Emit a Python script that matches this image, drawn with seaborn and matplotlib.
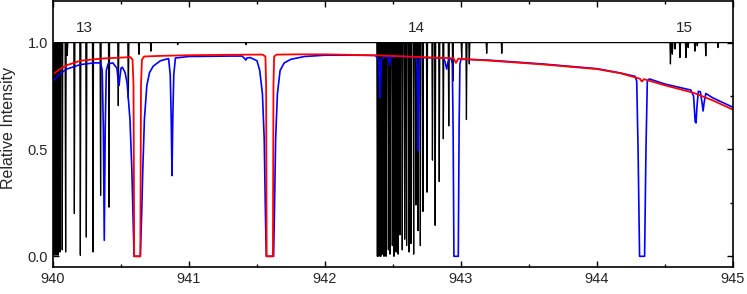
import numpy as np
import pandas as pd
import seaborn as sns
import matplotlib.pyplot as plt
from matplotlib.ticker import MultipleLocator

# black: measured absorption lines (position, bottom of line)
black_pos = [940.007, 940.022, 940.037, 940.051, 940.068, 940.093, 940.105, 940.157, 940.201,
             940.245, 940.294, 940.350, 940.412, 940.480, 940.554, 940.632, 940.720, 940.917,
             941.420,
             942.385, 942.397, 942.410, 942.421, 942.434, 942.449, 942.466, 942.478, 942.495,
             942.507, 942.522, 942.537, 942.551, 942.568, 942.586, 942.600, 942.618, 942.632,
             942.652, 942.669, 942.684, 942.701, 942.720, 942.750, 942.790, 942.810, 942.840,
             942.870, 942.910, 942.940, 943.005, 943.040, 943.061, 943.189, 943.300,
             944.540, 944.554, 944.574, 944.610, 944.654, 944.670, 944.720, 944.737, 944.800,
             944.890]
black_min = [0.005, 0.005, 0.005, 0.02, 0.03, 0.02, 0.94, 0.20, 0.005,
             0.09, 0.02, 0.285, 0.23, 0.705, 0.74, 0.945, 0.96, 0.99,
             0.99,
             0.0, 0.0, 0.0, 0.01, 0.0, 0.0, 0.03, 0.01, 0.05,
             0.0, 0.02, 0.01, 0.10, 0.03, 0.08, 0.05, 0.02, 0.06,
             0.01, 0.24, 0.12, 0.05, 0.21, 0.30, 0.45, 0.145, 0.35,
             0.55, 0.61, 0.82, 0.93, 0.64, 0.90, 0.95, 0.95,
             0.90, 0.946, 0.97, 0.93, 0.93, 0.977, 0.96, 0.985, 0.938,
             0.977]

# red curve, points
red_x = [940.0, 940.05, 940.1, 940.2, 940.35, 940.5, 940.57, 940.585, 940.592, 940.597,
         940.642, 940.647, 940.654, 940.67, 940.8, 941.0, 941.3, 941.54, 941.562, 941.567,
         941.571, 941.617, 941.621, 941.626, 941.645, 941.8, 942.0, 942.4, 942.8, 942.945,
         942.963, 942.98, 943.2, 943.6, 944.0, 944.17, 944.315, 944.33, 944.345, 944.5,
         944.71, 944.85, 945.0]
red_y = [0.852, 0.876, 0.894, 0.915, 0.925, 0.93, 0.932, 0.92, 0.8, 0.0,
         0.0, 0.8, 0.92, 0.935, 0.938, 0.941, 0.943, 0.944, 0.935, 0.8,
         0.0, 0.0, 0.8, 0.935, 0.944, 0.945, 0.945, 0.94, 0.93, 0.927,
         0.905, 0.925, 0.916, 0.898, 0.876, 0.857, 0.831, 0.818, 0.829, 0.80,
         0.765, 0.73, 0.686]

# blue curve, points
blue_x = [940.0, 940.05, 940.1, 940.2, 940.3, 940.35,
          940.362, 940.37, 940.377, 940.384, 940.392, 940.405,
          940.44, 940.47, 940.48, 940.486, 940.492, 940.5, 940.51,
          940.53, 940.545, 940.566, 940.58, 940.588, 940.596, 940.642, 940.652, 940.66,
          940.672, 940.69, 940.71, 940.737, 940.79, 940.83, 940.85,
          940.862, 940.869, 940.875, 940.881, 940.888, 940.9, 941.0, 941.3, 941.39,
          941.41, 941.418, 941.426, 941.45,
          941.5, 941.52, 941.54, 941.553, 941.562, 941.568, 941.622, 941.628, 941.637,
          941.65, 941.67, 941.7, 941.75, 941.85, 942.0, 942.2, 942.37,
          942.395, 942.4, 942.404, 942.408, 942.413, 942.44, 942.466, 942.474, 942.482,
          942.5, 942.67,
          942.678, 942.682, 942.686, 942.690, 942.694, 942.70, 942.87,
          942.883, 942.895, 942.905, 942.915, 942.93,
          942.936, 942.942, 942.948, 942.98, 942.986, 942.992, 943.0, 943.2, 943.6,
          944.0, 944.17, 944.28,
          944.292, 944.302, 944.313, 944.35, 944.36, 944.37, 944.385, 944.5, 944.69,
          944.71, 944.722, 944.728, 944.735, 944.745, 944.76,
          944.772, 944.78, 944.788, 944.8, 944.85, 945.0]
blue_y = [0.82, 0.853, 0.876, 0.897, 0.905, 0.905,
          0.87, 0.6, 0.075, 0.6, 0.87, 0.9,
          0.905, 0.88, 0.82, 0.80, 0.84, 0.88, 0.885,
          0.86, 0.81, 0.64, 0.4, 0.2, 0.0, 0.0, 0.2, 0.4,
          0.64, 0.8, 0.86, 0.89, 0.915, 0.922, 0.925,
          0.85, 0.65, 0.378, 0.65, 0.85, 0.928, 0.935, 0.937, 0.937,
          0.925, 0.918, 0.928, 0.93,
          0.915, 0.87, 0.76, 0.55, 0.2, 0.0, 0.0, 0.2, 0.55,
          0.76, 0.87, 0.905, 0.922, 0.935, 0.941, 0.941, 0.94,
          0.92, 0.82, 0.744, 0.82, 0.92, 0.937, 0.93, 0.895, 0.93,
          0.935, 0.932,
          0.88, 0.7, 0.495, 0.7, 0.88, 0.93, 0.928,
          0.91, 0.876, 0.91, 0.926, 0.922,
          0.9, 0.6, 0.0, 0.0, 0.6, 0.9, 0.922, 0.918, 0.9,
          0.878, 0.858, 0.842,
          0.82, 0.5, 0.0, 0.0, 0.5, 0.82, 0.83, 0.806, 0.778,
          0.75, 0.63, 0.624, 0.7, 0.772, 0.77,
          0.72, 0.68, 0.72, 0.762, 0.742, 0.697]

band_labels = ["13", "14", "15"]
band_x = [940.23, 942.67, 944.64]

# black sticks: each line drawn as a narrow V from the 1.0 baseline
hw = 0.004
bx = [940.0]
by = [1.0]
for p, m in zip(black_pos, black_min):
    bx += [p - hw, p, p + hw]
    by += [1.0, m, 1.0]
bx.append(945.0)
by.append(1.0)
black_df = pd.DataFrame({"x": bx, "y": by})
red_df = pd.DataFrame({"x": red_x, "y": red_y})
blue_df = pd.DataFrame({"x": blue_x, "y": blue_y})

sns.set_theme(style="ticks")
plt.rcParams["font.family"] = ["Liberation Sans", "DejaVu Sans"]
plt.rcParams["xtick.direction"] = "in"
plt.rcParams["ytick.direction"] = "in"

fig = plt.figure(figsize=(7.47, 2.94), dpi=100)
ax = fig.add_axes([53 / 747, 27 / 294, 680 / 747, 266.5 / 294])

sns.lineplot(data=black_df, x="x", y="y", color="black", lw=0.9, estimator=None, sort=False, ax=ax)
sns.lineplot(data=blue_df, x="x", y="y", color="#0000ff", lw=1.2, estimator=None, sort=False, ax=ax)
sns.lineplot(data=red_df, x="x", y="y", color="#ff0000", lw=1.3, estimator=None, sort=False, ax=ax)

for lab, xx in zip(band_labels, band_x):
    ax.text(xx, 1.07, lab, ha="center", va="center", fontsize=11)

ax.set_xlim(940, 945)
ax.set_ylim(-0.05, 1.197)
ax.xaxis.set_major_locator(MultipleLocator(1))
ax.xaxis.set_minor_locator(MultipleLocator(0.5))
ax.yaxis.set_major_locator(MultipleLocator(0.5))
ax.yaxis.set_minor_locator(MultipleLocator(0.25))
ax.set_yticks([0.0, 0.5, 1.0])
ax.set_yticklabels(["0.0", "0.5", "1.0"])
ax.tick_params(which="both", top=True, right=True, labelsize=10.5, width=1.0, color="black")
ax.tick_params(which="major", length=4)
ax.tick_params(which="minor", length=2.5)
ax.set_xlabel("")
ax.set_ylabel("Relative Intensity", fontsize=11.5)
ax.yaxis.set_label_coords(-0.054, 0.52)
for s in ax.spines.values():
    s.set_linewidth(1.2)
    s.set_color("black")

fig.savefig("out.png", dpi=100)
